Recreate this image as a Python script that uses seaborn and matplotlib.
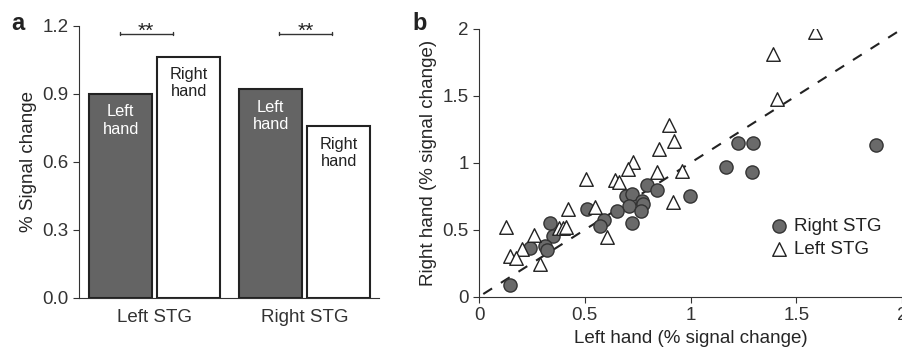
import pandas as pd
import numpy as np
import seaborn as sns
from matplotlib import pyplot as plt

# panel a: mean % signal change per region and hand
regions = ['Left STG', 'Right STG']
hands = ['Left hand', 'Right hand']
left_hand_vals = [0.90, 0.92]
right_hand_vals = [1.065, 0.757]
# significance brackets (x offsets from each category, height) and labels
sig_x = [(-0.232, 0.119), (0.830, 1.186)]
sig_y = 1.166
sig_text = ['**', '**']

# panel b: per-subject values (left hand, right hand)
right_stg_x = [1.226, 1.294, 1.877, 1.170, 1.291, 0.793, 0.843, 0.998, 0.694, 0.725,
               0.769, 0.777, 0.709, 0.765, 0.651, 0.509, 0.592, 0.572, 0.722, 0.336,
               0.348, 0.241, 0.312, 0.323, 0.147]
right_stg_y = [1.149, 1.149, 1.134, 0.969, 0.932, 0.837, 0.794, 0.754, 0.754, 0.767,
               0.712, 0.694, 0.679, 0.637, 0.637, 0.655, 0.575, 0.530, 0.554, 0.550,
               0.450, 0.367, 0.375, 0.350, 0.088]
left_stg_x = [1.589, 1.390, 1.410, 0.900, 0.920, 0.853, 0.730, 0.703, 0.840, 0.961,
              0.507, 0.643, 0.662, 0.916, 0.548, 0.421, 0.128, 0.260, 0.380, 0.396,
              0.411, 0.607, 0.205, 0.147, 0.173, 0.288]
left_stg_y = [1.980, 1.815, 1.480, 1.280, 1.166, 1.106, 1.007, 0.957, 0.930, 0.937,
              0.880, 0.869, 0.857, 0.707, 0.670, 0.655, 0.520, 0.462, 0.512, 0.512,
              0.520, 0.445, 0.355, 0.305, 0.287, 0.245]
unity = [0.02, 2.0]

sns.set_style('ticks')
plt.rcParams['font.family'] = ['Liberation Sans', 'DejaVu Sans']
plt.rcParams['axes.edgecolor'] = '#333333'
plt.rcParams['xtick.color'] = '#333333'
plt.rcParams['ytick.color'] = '#333333'
plt.rcParams['text.color'] = '#222222'
fs = 13.5

fig = plt.figure(figsize=(9.03, 3.56), dpi=100)
ax1 = fig.add_axes([0.0875, 0.163, 0.332, 0.764])
ax2 = fig.add_axes([0.5305, 0.1666, 0.4684, 0.752])

# ---- panel a
df = pd.DataFrame({'region': regions * 2,
                   'hand': [hands[0]] * 2 + [hands[1]] * 2,
                   'value': left_hand_vals + right_hand_vals})
sns.barplot(data=df, x='region', y='value', hue='hand', hue_order=hands,
            palette={'Left hand': '#646464', 'Right hand': 'white'},
            edgecolor='#222222', linewidth=1.5, width=0.907, gap=0.074,
            legend=False, ax=ax1)
for cont, hand in zip(ax1.containers, hands):
    for bar in cont:
        ax1.text(bar.get_x() + bar.get_width() / 2, bar.get_height() - 0.045,
                 hand.replace(' ', '\n'), ha='center', va='top', fontsize=11.8,
                 linespacing=1.2, color='white' if hand == 'Left hand' else '#222222')
for xs, t in zip(sig_x, sig_text):
    ax1.plot(xs, [sig_y, sig_y], color='#333333', lw=1, clip_on=False)
    for x in xs:
        ax1.plot([x, x], [sig_y - 0.007, sig_y + 0.007], color='#333333', lw=1, clip_on=False)
    ax1.text(np.mean(xs), sig_y - 0.03, t, ha='center', va='bottom', fontsize=15, clip_on=False)
ax1.set_xlim(-0.505, 1.495)
ax1.set_ylim(0, 1.2)
ax1.set_yticks([0, 0.3, 0.6, 0.9, 1.2])
ax1.set_yticklabels(['0.0', '0.3', '0.6', '0.9', '1.2'])
ax1.set_xlabel('')
ax1.set_ylabel('% Signal change', fontsize=fs)
ax1.tick_params(axis='x', length=0, labelsize=fs, pad=8)
ax1.tick_params(axis='y', length=4, labelsize=fs)
sns.despine(ax=ax1)

# ---- panel b
ax2.plot(unity, unity, ls=(0, (5, 5)), color='#222222', lw=1.5, zorder=1)
sns.scatterplot(x=right_stg_x, y=right_stg_y, marker='o', s=90, color='#6a6a6a',
                edgecolor='#333333', linewidth=1, label='Right STG', ax=ax2, zorder=2)
sns.scatterplot(x=left_stg_x, y=left_stg_y, marker='^', s=95, color='white',
                edgecolor='#222222', linewidth=1, label='Left STG', ax=ax2, zorder=3)
ax2.set_xlim(0, 2)
ax2.set_ylim(0, 2)
ax2.set_xticks([0, 0.5, 1, 1.5, 2])
ax2.set_xticklabels(['0', '0.5', '1', '1.5', '2'])
ax2.set_yticks([0, 0.5, 1, 1.5, 2])
ax2.set_yticklabels(['0', '0.5', '1', '1.5', '2'])
ax2.set_xlabel('Left hand (% signal change)', fontsize=fs)
ax2.set_ylabel('Right hand (% signal change)', fontsize=fs)
ax2.tick_params(length=4, labelsize=fs)
ax2.legend(loc='lower right', bbox_to_anchor=(0.97, 0.115), frameon=False, fontsize=fs,
           handlelength=1.2, handletextpad=0.2, borderaxespad=0, labelspacing=0.35)
sns.despine(ax=ax2)

fig.text(0.012, 0.965, 'a', fontsize=17, fontweight='bold', va='top')
fig.text(0.457, 0.965, 'b', fontsize=17, fontweight='bold', va='top')

fig.savefig('out.png', dpi=100)
